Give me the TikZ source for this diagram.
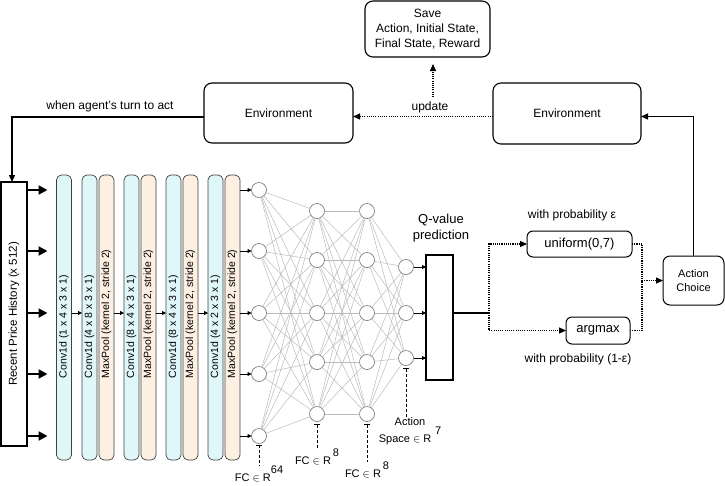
\documentclass[tikz,border=0pt]{standalone}
\usepackage{fontspec}
\setmainfont{Liberation Sans}
\usetikzlibrary{arrows.meta,calc}
\definecolor{convblue}{HTML}{E0F7FA}
\definecolor{poolorange}{HTML}{FDF0E3}
\definecolor{edgegray}{HTML}{BBBBBB}
\definecolor{neurongray}{HTML}{707070}
\newcommand{\raisedsup}[1]{\raisebox{8pt}{#1}}
\begin{document}
\begin{tikzpicture}[x=1pt,y=-1pt,
  every node/.style={inner sep=0pt, outer sep=0pt},
  rbox/.style={draw=black, line width=1.1pt, rounded corners=8pt, align=center, font=\fontsize{12pt}{15pt}\selectfont},
  layerbox/.style={draw=black!75, line width=0.7pt, rounded corners=5pt, minimum width=15pt, minimum height=285pt},
  convlayer/.style={layerbox, fill=convblue},
  poollayer/.style={layerbox, fill=poolorange},
  layertext/.style={rotate=90, anchor=west, font=\fontsize{10.5pt}{12pt}\selectfont},
  neuron/.style={circle, draw=neurongray, fill=white, line width=0.6pt, minimum size=15pt},
  nnedge/.style={draw=edgegray, line width=0.5pt},
  bigarrow/.style={line width=2pt, -{Triangle[length=9pt,width=9pt]}},
  smallarrow/.style={line width=0.8pt, -{Triangle[length=4pt,width=4pt]}},
  solidarrow/.style={line width=1.2pt, -{Triangle[length=7pt,width=6pt]}},
  dotpat/.style={line width=1.1pt, dash pattern=on 1.1pt off 1.1pt},
  dotarrow/.style={dotpat, -{Triangle[length=7pt,width=6pt]}},
  dotline/.style={dotpat},
  fcmark/.style={line width=0.8pt, densely dashed, {Bar[width=6pt,line width=0.8pt]}-},
  fclabel/.style={anchor=north, align=center, font=\fontsize{11pt}{13pt}\selectfont},
  plain/.style={font=\fontsize{12pt}{15pt}\selectfont, align=center},
]
\useasboundingbox (0,0) rectangle (725,485);

% ---------- top boxes ----------
\node[rbox, minimum width=125pt, minimum height=56pt] (save) at (427.5,29)
  {Save\\Action, Initial State,\\Final State, Reward};
\node[rbox, minimum width=149pt, minimum height=60pt] (envL) at (278.5,113) {Environment};
\node[rbox, minimum width=148pt, minimum height=61pt] (envR) at (567,113.5) {Environment};
\node[plain] (turn) at (110,106) {when agent's turn to act};
\node[plain] (upd) at (430,107) {update};
\coordinate (updtop) at (433,97);

% ---------- input ----------
\node[draw, line width=1.3pt, rotate=90, minimum width=264pt, minimum height=26pt,
      font=\fontsize{11.5pt}{13pt}\selectfont] (rph) at (14,314) {Recent Price History (x 512)};

% ---------- conv / pool layers ----------
\node[convlayer] (c1) at (64,317.5) {};
\node[convlayer] (c2) at (89.5,317.5) {};
\node[poollayer] (p1) at (106.5,317.5) {};
\node[convlayer] (c3) at (131.5,317.5) {};
\node[poollayer] (p2) at (148.5,317.5) {};
\node[convlayer] (c4) at (173.5,317.5) {};
\node[poollayer] (p3) at (190.5,317.5) {};
\node[convlayer] (c5) at (215.5,317.5) {};
\node[poollayer] (p4) at (232.5,317.5) {};

\node[layertext] (t1) at (c1.center |- 0,378) {Conv1d (1 x 4 x 3 x 1)};
\node[layertext] (t2) at (c2.center |- 0,378) {Conv1d (4 x 8 x 3 x 1)};
\node[layertext] (t3) at (p1.center |- 0,378) {MaxPool (kernel 2, stride 2)};
\node[layertext] (t4) at (c3.center |- 0,378) {Conv1d (8 x 4 x 3 x 1)};
\node[layertext] (t5) at (p2.center |- 0,378) {MaxPool (kernel 2, stride 2)};
\node[layertext] (t6) at (c4.center |- 0,378) {Conv1d (8 x 4 x 3 x 1)};
\node[layertext] (t7) at (p3.center |- 0,378) {MaxPool (kernel 2, stride 2)};
\node[layertext] (t8) at (c5.center |- 0,378) {Conv1d (4 x 2 x 3 x 1)};
\node[layertext] (t9) at (p4.center |- 0,378) {MaxPool (kernel 2, stride 2)};

\draw[smallarrow] (c1.east |- 0,313) -- (c2.west |- 0,313);
\draw[smallarrow] (p1.east |- 0,313) -- (c3.west |- 0,313);
\draw[smallarrow] (p2.east |- 0,313) -- (c4.west |- 0,313);
\draw[smallarrow] (p3.east |- 0,313) -- (c5.west |- 0,313);

% ---------- neurons ----------
\foreach \k/\yy in {1/190,2/251,3/313,4/374,5/436}{
  \node[neuron] (n1\k) at (259,\yy) {};
  \draw[bigarrow] (rph.south |- 0,\yy) -- ([xshift=-9pt]c1.west |- 0,\yy);
  \draw[smallarrow] (p4.east |- 0,\yy) -- (n1\k.west);
}
\foreach \k/\yy in {1/211,2/260,3/313,4/362,5/414}{
  \node[neuron] (n2\k) at (317,\yy) {};
  \node[neuron] (n3\k) at (367,\yy) {};
}
\foreach \k/\yy in {1/267,2/313,3/358}{
  \node[neuron] (n4\k) at (406,\yy) {};
}
\foreach \i in {1,...,5}{
  \foreach \j in {1,...,5}{
    \draw[nnedge] (n1\i) -- (n2\j);
    \draw[nnedge] (n2\i) -- (n3\j);
  }
  \foreach \j in {1,2,3}{
    \draw[nnedge] (n3\i) -- (n4\j);
  }
}

% ---------- Q-value ----------
\node[draw, line width=1.3pt, minimum width=27pt, minimum height=125pt] (q) at (439.5,317.5) {};
\node[font=\fontsize{13pt}{16pt}\selectfont, align=center] (qlab) at (441,228) {Q-value\\prediction};
\foreach \k in {1,2,3}{
  \draw[smallarrow] (n4\k.east) -- (q.west |- n4\k);
}

% ---------- FC labels ----------
\draw[fcmark] ([yshift=-1pt]n15.south) -- ++(0,21) coordinate (fc1end);
\node[fclabel] (fc1) at (fc1end) {FC $\in$ R\raisedsup{64}};
\draw[fcmark] ([yshift=-2.5pt]n25.south) -- ++(0,25) coordinate (fc2end);
\node[fclabel] (fc2) at (fc2end) {FC $\in$ R\raisedsup{\,8}};
\draw[fcmark] ([yshift=-2.5pt]n35.south) -- ++(0,38) coordinate (fc3end);
\node[fclabel] (fc3) at (fc3end) {FC $\in$ R\raisedsup{\,8}};
\draw[fcmark] ([yshift=-2.5pt]n43.south) -- ++(0,50) coordinate (fc4end);
\node[fclabel] (fc4) at ([xshift=4pt]fc4end) {Action\\Space $\in$ R\raisedsup{\,\,7}};

% ---------- action selection ----------
\coordinate (split) at (489,313);
\coordinate (merge) at (642,280.5);
\node[draw, line width=1pt, rounded corners=6pt, minimum width=105pt, minimum height=26pt,
      font=\fontsize{13pt}{15pt}\selectfont] (uni) at (579.5,244) {uniform(0,7)};
\node[draw, line width=1pt, rounded corners=6pt, minimum width=64pt, minimum height=27pt,
      font=\fontsize{13pt}{15pt}\selectfont] (arg) at (598,330.5) {argmax};
\node[draw, line width=1pt, rounded corners=7pt, minimum width=61pt, minimum height=49pt,
      align=center, font=\fontsize{11pt}{14pt}\selectfont] (ac) at (693.5,280.5) {Action\\Choice};
\node[plain] (prob1) at (572,215) {with probability ε};
\node[plain] (prob2) at (578,359) {with probability (1-ε)};

\draw[line width=1.2pt] (q.east |- split) -- (split);
\draw[dotarrow] (split) |- (uni.west);
\draw[dotarrow] (split) |- (arg.west);
\draw[dotline] (uni.east) -| (merge);
\draw[dotline] (arg.east) -| (merge);
\draw[dotarrow] (merge) -- (ac.west);

% ---------- loop connectors ----------
\draw[solidarrow] (ac.north) -- (ac.north |- 0,116.5) -- (envR.east |- 0,116.5);
\draw[dotarrow] (envR.west |- 0,116.5) -- (envL.east |- 0,116.5);
\draw[dotarrow, shorten >=7pt] (updtop) -- (save.south -| updtop);
\draw[solidarrow] (envL.west |- 0,117) -- (12,117) -- (rph.east -| 12,0);
\end{tikzpicture}
\end{document}
